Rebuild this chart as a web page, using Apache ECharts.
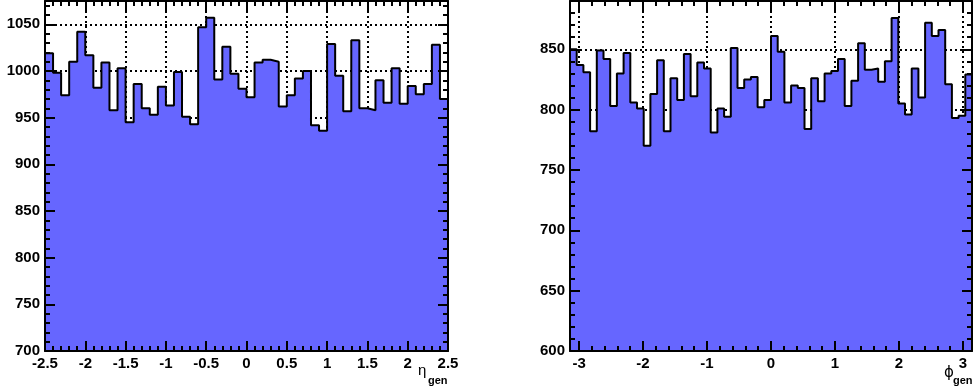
<!DOCTYPE html>
<html>
<head>
<meta charset="utf-8">
<script src="https://cdn.jsdelivr.net/npm/echarts@6/dist/echarts.min.js"></script>
<style>
html,body{margin:0;padding:0;background:#fff;}
#c{width:976px;height:392px;}
</style>
</head>
<body>
<div id="c"></div>
<script>
// ---------- data ----------
const etaRange = [-2.5, 2.5];
const etaCounts = [1019,998,974,1010,1042,1017,982,1009,958,1003,
                   945,986,960,953,983,963,999,951,943,1047,
                   1057,991,1026,997,981,972,1009,1012,1010,962,
                   974,992,1000,942,936,1029,995,957,1033,960,
                   958,990,966,1003,965,984,975,986,1028,970];
const phiRange = [-Math.PI, Math.PI];
const phiCounts = [850,837,831,782,849,842,803,830,847,806,
                   801,770,813,841,782,826,808,846,811,839,
                   834,781,801,794,851,818,825,827,802,808,
                   861,848,806,820,818,784,826,807,830,832,
                   842,803,824,855,833,834,823,840,876,805,
                   796,834,810,872,861,866,821,793,795,829];
const etaTicks = [-2.5,-2,-1.5,-1,-0.5,0,0.5,1,1.5,2,2.5];
const etaMinorStep = 0.1;
const phiTicks = [-3,-2,-1,0,1,2,3];
const phiMinorStep = 0.2;
const etaYRange = [700, 1075];
const etaYTicks = [700,750,800,850,900,950,1000,1050];
const phiYRange = [600, 890];
const phiYTicks = [600,650,700,750,800,850];
const yMinorStep = 10;

// ---------- helpers ----------
function histLine(range, counts) {
  const n = counts.length, w = (range[1] - range[0]) / n;
  const pts = counts.map((v, i) => [range[0] + i * w, v]);
  pts.push([range[1], counts[n - 1]]);
  return pts;
}
function minorList(range, step, majors) {
  const out = [];
  const start = Math.ceil(range[0] / step - 1e-9) * step;
  for (let v = start; v < range[1] + 1e-9; v += step) {
    const r = Math.round(v * 1000) / 1000;
    if (r <= range[0] + 1e-6 || r >= range[1] - 1e-6) continue;
    if (!majors.some(m => Math.abs(m - r) < 1e-6)) out.push(r);
  }
  return out;
}
const FONT = '"Liberation Sans", Arial, Helvetica, sans-serif';
const black = '#000';
const labelStyle = {color: black, fontFamily: FONT, fontWeight: 'bold', fontSize: 15, margin: 5};
const gridLine = {show: true, lineStyle: {color: black, width: 2, type: [2, 3]}};

// base axis: labels + dotted grid, drawn under the histogram
function baseAxis(grid, range, values, pos, fmt) {
  return {
    type: 'value', gridIndex: grid, min: range[0], max: range[1], position: pos, z: 0,
    axisLine: {show: false, onZero: false},
    axisTick: {show: false, customValues: values},
    axisLabel: Object.assign({show: true, customValues: values, formatter: fmt}, labelStyle),
    splitLine: gridLine
  };
}
// overlay axis: frame line and ticks, drawn above the histogram
function tickAxis(grid, range, values, pos, len, line) {
  return {
    type: 'value', gridIndex: grid, min: range[0], max: range[1], position: pos, z: 10,
    axisLine: {show: line, onZero: false, lineStyle: {color: black, width: 2}},
    axisTick: {show: true, inside: true, length: len, customValues: values,
               lineStyle: {color: black, width: 2}},
    axisLabel: {show: false},
    splitLine: {show: false}
  };
}
const fmtX = v => String(Math.round(v * 10) / 10);
const fmtY = v => String(Math.round(v));

function axesFor(grid, range, majors, minorStep, dimX) {
  const minors = minorList(range, minorStep, majors);
  const p1 = dimX ? 'bottom' : 'left', p2 = dimX ? 'top' : 'right';
  return [
    baseAxis(grid, range, majors, p1, dimX ? fmtX : fmtY),
    tickAxis(grid, range, majors, p1, 10, true),
    tickAxis(grid, range, minors, p1, 5, false),
    tickAxis(grid, range, majors, p2, 10, true),
    tickAxis(grid, range, minors, p2, 5, false)
  ];
}

const xAxes = [].concat(
  axesFor(0, etaRange, etaTicks, etaMinorStep, true),
  axesFor(1, phiRange, phiTicks, phiMinorStep, true)
);
const yAxes = [].concat(
  axesFor(0, etaYRange, etaYTicks, yMinorStep, false),
  axesFor(1, phiYRange, phiYTicks, yMinorStep, false)
);

function histSeries(xi, yi, range, counts) {
  return {
    type: 'line', xAxisIndex: xi, yAxisIndex: yi, step: 'end',
    data: histLine(range, counts), symbol: 'none', showSymbol: false,
    lineStyle: {color: black, width: 2},
    areaStyle: {color: '#6666ff', opacity: 1, origin: 'start'},
    animation: false, z: 2
  };
}

const chart = echarts.init(document.getElementById('c'), null, {renderer: 'canvas'});
chart.setOption({
  animation: false,
  backgroundColor: '#fff',
  grid: [
    {left: 45, right: 528, top: 1, bottom: 41, containLabel: false},
    {left: 570, right: 4, top: 1, bottom: 41, containLabel: false}
  ],
  xAxis: xAxes,
  yAxis: yAxes,
  series: [
    histSeries(0, 0, etaRange, etaCounts),
    histSeries(5, 5, phiRange, phiCounts)
  ],
  graphic: [
    {type: 'text', left: 418, top: 363, style: {text: 'η', font: '15px ' + FONT, fill: black}},
    {type: 'text', left: 428, top: 375, style: {text: 'gen', font: 'bold 11px ' + FONT, fill: black}},
    {type: 'text', left: 944, top: 366, style: {text: 'ϕ', font: '15px "DejaVu Sans", ' + FONT, fill: black}},
    {type: 'text', left: 953, top: 375, style: {text: 'gen', font: 'bold 11px ' + FONT, fill: black}}
  ]
});
</script>
</body>
</html>
